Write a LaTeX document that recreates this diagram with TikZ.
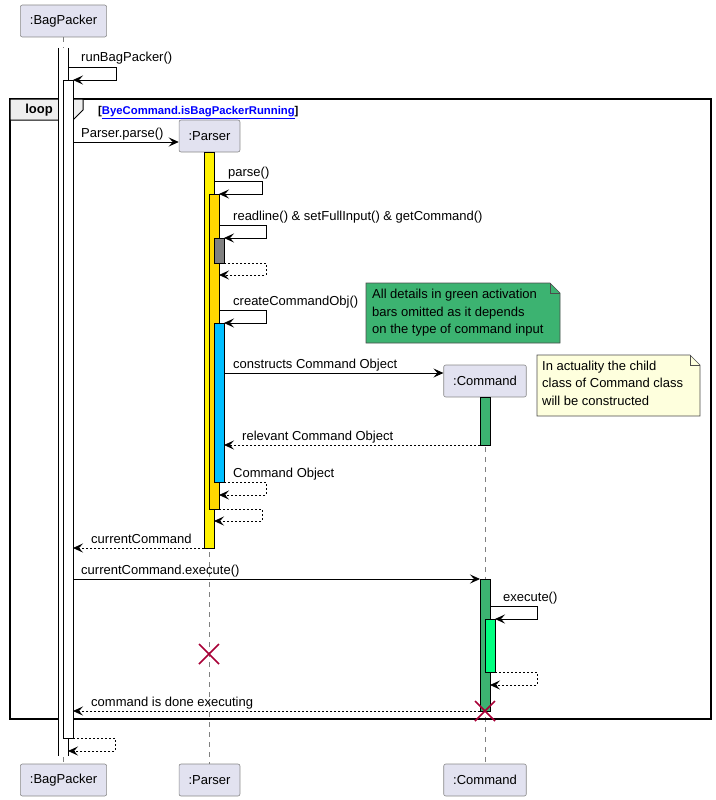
\documentclass[tikz,border=0pt]{standalone}
\usepackage{fontspec}
\setmainfont{Liberation Sans}
\usetikzlibrary{arrows.meta}
\definecolor{boxfill}{HTML}{E2E2F0}
\definecolor{boxline}{HTML}{888888}
\definecolor{notegreen}{HTML}{3CB371}
\definecolor{noteyellow}{HTML}{FEFFDD}
\definecolor{gold}{HTML}{FFD700}
\definecolor{skyblue}{HTML}{00BFFF}
\definecolor{springgreen}{HTML}{00FF7F}
\definecolor{killred}{HTML}{A80036}
\definecolor{loopfill}{HTML}{EEEEEE}
\tikzset{
  every node/.style={font=\fontsize{13}{15.5}\selectfont},
  participant/.style={draw=boxline, fill=boxfill, rounded corners=2pt,
    minimum height=32pt, inner xsep=9.5pt, line width=0.6pt},
  lifeline/.style={draw=gray, line width=0.6pt, dash pattern=on 5pt off 5pt},
  actbar/.style={draw=black, line width=0.8pt},
  msg/.style={line width=0.8pt, -{Stealth[length=10pt,width=9pt,inset=4pt]}},
  reply/.style={msg, dash pattern=on 2pt off 2pt},
  msglabel/.style={anchor=base west, inner sep=0pt},
  destroy/.style={draw=killred, line width=1.5pt},
  note/.style={draw=black!70, line width=0.6pt},
}
\begin{document}
\begin{tikzpicture}[x=1pt,y=-1pt]
    \useasboundingbox (0,0) rectangle (715,800);
    % Participants
    \node[participant] (bagTop) at (63.5,21) {:BagPacker};
    \node[participant] (parserTop) at (209.5,136) {:Parser};
    \node[participant] (cmdTop) at (485,381) {:Command};
    \node[participant] (bagBot) at (63.5,780) {:BagPacker};
    \node[participant] (parserBot) at (209.5,780) {:Parser};
    \node[participant] (cmdBot) at (485,780) {:Command};
    % Lifelines
    \draw[lifeline] (bagTop) -- (bagBot);
    \draw[lifeline] (parserTop) -- (parserBot);
    \draw[lifeline] (cmdTop) -- (cmdBot);
    % Loop frame
    \draw[line width=1.5pt] (10,99) rectangle (711,719);
    \draw[line width=1pt, fill=loopfill] (10,99) -- (83,99) -- (83,110) -- (73,120) -- (10,120) -- cycle;
    \node[font=\fontsize{13}{15}\selectfont\bfseries] (loopTag) at (39,110) {loop};
    \node[msglabel, font=\fontsize{11.3}{13}\selectfont\bfseries] (guard) at (98,114)
      {[\textcolor{blue}{\underline{ByeCommand.isBagPackerRunning}}]};
    % BagPacker activations
    \fill[white] (58,48) rectangle (68,756);
    \draw[actbar] (58,48) -- (58,756) (68,48) -- (68,756);
    \draw[actbar, fill=white] (63,80) rectangle (73,738);
    % Parser activations
    \draw[actbar, fill=yellow] (204,152) rectangle (214,548);
    \draw[actbar, fill=gold] (209,194) rectangle (219,509);
    \draw[actbar, fill=gray] (214,238) rectangle (224,263);
    \draw[actbar, fill=skyblue] (214,323) rectangle (224,482);
    % Command activations
    \draw[actbar, fill=notegreen] (480,397) rectangle (490,445);
    \draw[actbar, fill=notegreen] (480,579) rectangle (490,711);
    \draw[actbar, fill=springgreen] (485,619) rectangle (495,672);
    % runBagPacker
    \draw[msg] (68,67) -- (116,67) -- (116,80) -- (73,80);
    \node[msglabel] (runLbl) at (81,62) {runBagPacker()};
    % Parser.parse
    \draw[msg] (73,142) -- (parserTop.west |- 0,142);
    \node[msglabel] (parseCall) at (81,137) {Parser.parse()};
    % parse
    \draw[msg] (214,181) -- (262,181) -- (262,194) -- (219,194);
    \node[msglabel] (parseLbl) at (228,176) {parse()};
    % readline
    \draw[msg] (219,225) -- (266,225) -- (266,238) -- (224,238);
    \node[msglabel] (readLbl) at (233,220) {readline() \& setFullInput() \& getCommand()};
    \draw[reply] (224,263) -- (266,263) -- (266,275) -- (219,275);
    % createCommandObj
    \draw[msg] (219,310) -- (266,310) -- (266,323) -- (224,323);
    \node[msglabel] (createLbl) at (233,305) {createCommandObj()};
    % Note on green bars
    \draw[note, fill=notegreen] (366,283) -- (550,283) -- (560,293) -- (560,343) -- (366,343) -- cycle;
    \draw[note] (550,283) -- (550,293) -- (560,293);
    \node[anchor=north west, inner sep=0pt, align=left, font=\fontsize{13}{17.5}\selectfont]
      (greenNote) at (372,289) {All details in green activation\\bars omitted as it depends\\on the type of command input};
    % constructs Command Object
    \draw[msg] (224,373) -- (cmdTop.west |- 0,373);
    \node[msglabel] (constructLbl) at (233,368) {constructs Command Object};
    % Note on child class
    \draw[note, fill=noteyellow] (537,355) -- (690,355) -- (700,365) -- (700,416) -- (537,416) -- cycle;
    \draw[note] (690,355) -- (690,365) -- (700,365);
    \node[anchor=north west, inner sep=0pt, align=left, font=\fontsize{13}{17.2}\selectfont]
      (childNote) at (542,361) {In actuality the child\\class of Command class\\will be constructed};
    % relevant Command Object
    \draw[reply] (480,445) -- (224,445);
    \node[msglabel] (relevantLbl) at (242,440) {relevant Command Object};
    % Command Object
    \draw[reply] (224,482) -- (266,482) -- (266,495) -- (219,495);
    \node[msglabel] (objLbl) at (233,477) {Command Object};
    \draw[reply] (219,509) -- (262,509) -- (262,521) -- (214,521);
    % currentCommand
    \draw[reply] (204,548) -- (73,548);
    \node[msglabel] (curLbl) at (91,543) {currentCommand};
    % currentCommand.execute
    \draw[msg] (73,579) -- (480,579);
    \node[msglabel] (execCall) at (81,574) {currentCommand.execute()};
    % execute
    \draw[msg] (490,606) -- (537,606) -- (537,619) -- (495,619);
    \node[msglabel] (execLbl) at (503,601) {execute()};
    \draw[reply] (495,672) -- (537,672) -- (537,685) -- (490,685);
    % Parser destroyed
    \draw[destroy] (209,654) +(-10,-10) -- +(10,10) +(-10,10) -- +(10,-10);
    % command is done executing
    \draw[reply] (480,711) -- (73,711);
    \node[msglabel] (doneLbl) at (91,706) {command is done executing};
    % Command destroyed
    \draw[destroy] (485,711) +(-10,-10) -- +(10,10) +(-10,10) -- +(10,-10);
    % final return
    \draw[reply] (73,738) -- (115,738) -- (115,751) -- (68,751);
\end{tikzpicture}
\end{document}
